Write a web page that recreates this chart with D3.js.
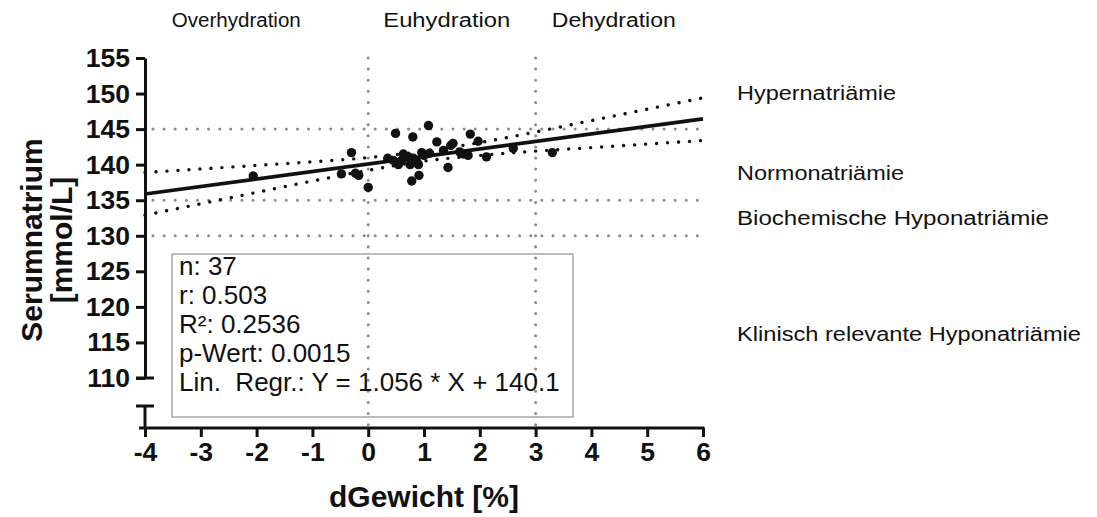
<!DOCTYPE html>
<html>
<head>
<meta charset="utf-8">
<script src="https://cdn.jsdelivr.net/npm/d3@7"></script>
<style>
  html, body { margin: 0; padding: 0; background: #fff; }
  svg { display: block; }
  text { font-family: "Liberation Sans", Arial, Helvetica, sans-serif; fill: #111; white-space: pre; }
</style>
</head>
<body>
<svg id="chart" width="1097" height="517"></svg>
<script>
// ---------- data ----------
const dGewicht = [-2.06, -0.30, -0.48, -0.23, -0.17, 0.00, 0.49, 0.80, 1.08, 1.23,
                  1.83, 1.97, 1.48, 1.52, 1.35, 2.12, 0.63, 0.35, 0.54, 0.72,
                  0.81, 0.87, 0.96, 0.90, 0.75, 1.43, 0.91, 0.78, 1.70, 1.79,
                  1.64, 2.60, 3.30, 1.00, 0.60, 1.10, 0.45];
const serumNa = [138.4, 141.7, 138.7, 138.8, 138.5, 136.8, 144.4, 143.9, 145.5, 143.2,
                 144.3, 143.3, 142.7, 143.0, 142.0, 141.1, 141.5, 140.9, 140.0, 141.1,
                 140.9, 140.4, 141.7, 140.0, 140.0, 139.6, 138.5, 137.7, 141.5, 141.3,
                 141.8, 142.3, 141.7, 141.3, 140.6, 141.6, 140.6];
const regSlope = 1.056;
const regIntercept = 140.1;
const bandX     = [-4, -3, -2, -1, 0, 1, 2, 3, 4, 5, 6];
const bandUpper = [138.9, 139.4, 139.9, 140.4, 141.0, 141.9, 143.1, 144.6, 146.2, 147.8, 149.4];
const bandLower = [132.9, 134.5, 136.1, 137.7, 139.2, 140.5, 141.3, 141.9, 142.4, 142.9, 143.4];
const xTicks = [-4, -3, -2, -1, 0, 1, 2, 3, 4, 5, 6];
const yTicks = [110, 115, 120, 125, 130, 135, 140, 145, 150, 155];
const naThresholds = [145, 135, 130];
const hydrationThresholds = [0, 3];
const hydrationLabels = [
  { text: "Overhydration", at: -3.52, len: 129 },
  { text: "Euhydration", at: 0.27, len: 127 },
  { text: "Dehydration", at: 3.29, len: 124 }
];
const naLabels = [
  { text: "Hypernatriämie", value: 150.1, len: 159 },
  { text: "Normonatriämie", value: 138.8, len: 167 },
  { text: "Biochemische Hyponatriämie", value: 132.5, len: 312 },
  { text: "Klinisch relevante Hyponatriämie", value: 116.2, len: 344 }
];
const statsLines = ["n: 37", "r: 0.503", "R²: 0.2536", "p-Wert: 0.0015", "Lin.  Regr.: Y = 1.056 * X + 140.1"];
const xTitle = "dGewicht [%]";
const yTitle = ["Serumnatrium", "[mmol/L]"];

// ---------- layout ----------
const svg = d3.select("#chart");
const x = d3.scaleLinear().domain([-4, 6]).range([145, 703]);
const y = d3.scaleLinear().domain([110, 155]).range([378, 58]);
const xAxisY = 428;
const lowerSegTop = 406;
const black = "#111";
const grey = "#8a8a8a";

// reference lines (grey dotted)
svg.append("g").selectAll("line.h").data(naThresholds).join("line")
  .attr("x1", x(-4) + 8).attr("x2", x(6))
  .attr("y1", d => y(d)).attr("y2", d => y(d))
  .attr("stroke", grey).attr("stroke-width", 3)
  .attr("stroke-linecap", "round").attr("stroke-dasharray", "0.01,11.1");
svg.append("g").selectAll("line.v").data(hydrationThresholds).join("line")
  .attr("x1", d => x(d)).attr("x2", d => x(d))
  .attr("y1", y(155)).attr("y2", xAxisY)
  .attr("stroke", grey).attr("stroke-width", 3)
  .attr("stroke-linecap", "round").attr("stroke-dasharray", "0.01,11.1");

// stats box
const box = svg.append("g");
box.append("rect").attr("x", 172).attr("y", 254).attr("width", 401).attr("height", 163)
  .attr("fill", "none").attr("stroke", "#999").attr("stroke-width", 1.3);
box.selectAll("text").data(statsLines).join("text")
  .attr("x", 179).attr("y", (d, i) => 275 + i * 29)
  .attr("font-size", 26).text(d => d);

// confidence bands
const bandLine = (vals) => d3.line().x((d, i) => x(bandX[i])).y(d => y(d)).curve(d3.curveMonotoneX)(vals);
[bandUpper, bandLower].forEach(vals => {
  svg.append("path").attr("d", bandLine(vals)).attr("fill", "none")
    .attr("stroke", black).attr("stroke-width", 3.4)
    .attr("stroke-linecap", "round").attr("stroke-dasharray", "0.01,11");
});

// regression line
svg.append("line")
  .attr("x1", x(-4)).attr("y1", y(regSlope * -4 + regIntercept))
  .attr("x2", x(6)).attr("y2", y(regSlope * 6 + regIntercept))
  .attr("stroke", black).attr("stroke-width", 3.7);

// points
svg.append("g").selectAll("circle").data(dGewicht).join("circle")
  .attr("cx", d => x(d)).attr("cy", (d, i) => y(serumNa[i]))
  .attr("r", 4.7).attr("fill", black);

// y axis (upper segment)
const yAxis = svg.append("g").attr("transform", `translate(${x(-4)},0)`)
  .call(d3.axisLeft(y).tickValues(yTicks).tickSize(9).tickSizeOuter(0).tickPadding(6));
yAxis.select(".domain").attr("stroke", black).attr("stroke-width", 3);
yAxis.selectAll(".tick line").attr("stroke", black).attr("stroke-width", 3);
yAxis.selectAll(".tick text").attr("font-size", 26.5).attr("font-weight", "bold")
  .attr("font-family", "Liberation Sans, Arial, sans-serif").attr("fill", black);
// break cap at bottom of upper segment
svg.append("line").attr("x1", x(-4) - 9).attr("x2", x(-4) + 9)
  .attr("y1", y(110)).attr("y2", y(110)).attr("stroke", black).attr("stroke-width", 3);
// lower segment
svg.append("line").attr("x1", x(-4)).attr("x2", x(-4))
  .attr("y1", lowerSegTop).attr("y2", xAxisY).attr("stroke", black).attr("stroke-width", 3);
svg.append("line").attr("x1", x(-4) - 9).attr("x2", x(-4) + 9)
  .attr("y1", lowerSegTop).attr("y2", lowerSegTop).attr("stroke", black).attr("stroke-width", 3);

// x axis
const xAxis = svg.append("g").attr("transform", `translate(0,${xAxisY})`)
  .call(d3.axisBottom(x).tickValues(xTicks).tickFormat(d3.format("d")).tickSize(9).tickSizeOuter(0).tickPadding(5));
xAxis.select(".domain").attr("stroke", black).attr("stroke-width", 3)
  .attr("d", `M${x(-4) - 6},0H${x(6) + 1.5}`);
xAxis.selectAll(".tick line").attr("stroke", black).attr("stroke-width", 3);
xAxis.selectAll(".tick text").attr("font-size", 26.5).attr("font-weight", "bold")
  .attr("font-family", "Liberation Sans, Arial, sans-serif").attr("fill", black)
  .text(d => d < 0 ? "-" + Math.abs(d) : d);

// axis titles
svg.append("text").attr("x", (x(-4) + x(6)) / 2).attr("y", 507)
  .attr("text-anchor", "middle").attr("font-size", 30).attr("font-weight", "bold").text(xTitle);
const yt = svg.append("g").attr("transform", `translate(0,${(y(155) + xAxisY) / 2 - 3}) rotate(-90)`);
yTitle.forEach((t, i) => {
  yt.append("text").attr("x", 0).attr("y", 42 + i * 30)
    .attr("text-anchor", "middle").attr("font-size", 30).attr("font-weight", "bold").text(t);
});

// hydration labels (top)
svg.append("g").selectAll("text").data(hydrationLabels).join("text")
  .attr("x", d => x(d.at)).attr("y", 27)
  .attr("font-size", 20)
  .attr("textLength", d => d.len).attr("lengthAdjust", "spacingAndGlyphs")
  .text(d => d.text);

// sodium labels (right)
svg.append("g").selectAll("text").data(naLabels).join("text")
  .attr("x", 737).attr("y", d => y(d.value) + 7)
  .attr("font-size", 20)
  .attr("textLength", d => d.len).attr("lengthAdjust", "spacingAndGlyphs")
  .text(d => d.text);
</script>
</body>
</html>
